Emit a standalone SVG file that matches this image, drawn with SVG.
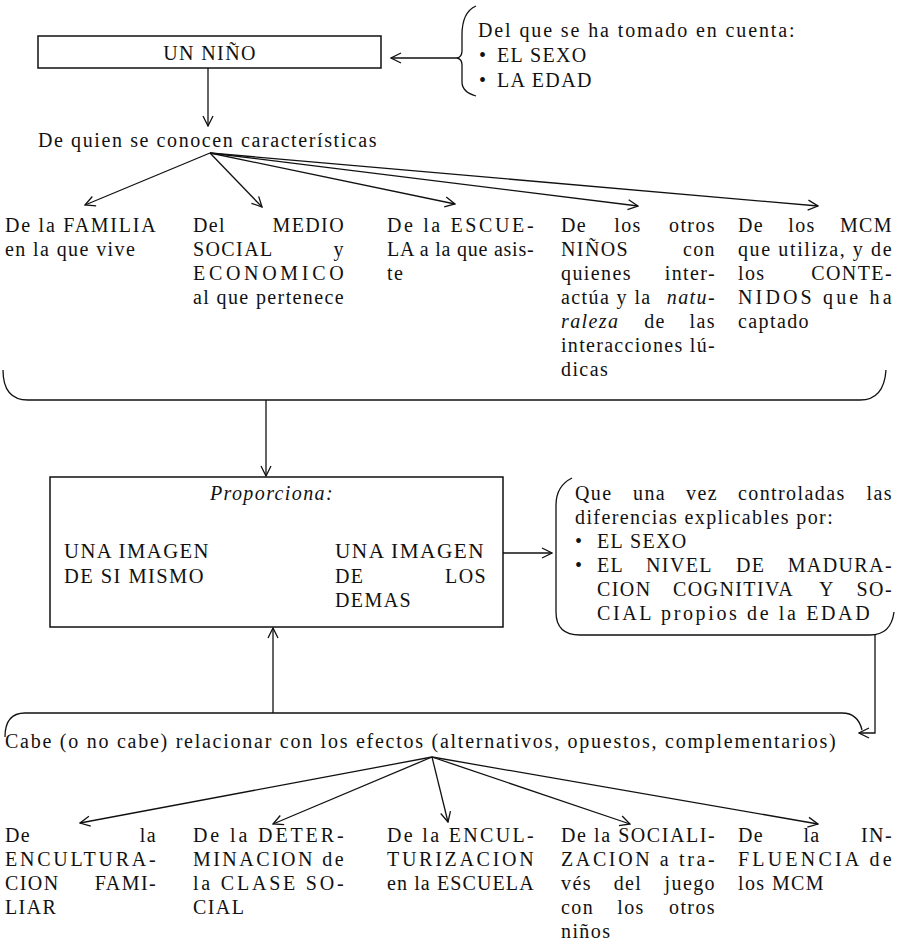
<svg xmlns="http://www.w3.org/2000/svg" width="901" height="946" viewBox="0 0 901 946">
<style>
.t{font-family:"Liberation Serif","Times New Roman",serif;font-size:20px;fill:#111;letter-spacing:1.4px}
.i{font-style:italic}
.e{text-anchor:end}
.m{text-anchor:middle}
.ln{stroke:#111;stroke-width:1.3;fill:none}
.bx{stroke:#111;stroke-width:1.5;fill:#fff}
</style>
<defs>
<marker id="a" viewBox="0 0 12 12" refX="11" refY="6" markerWidth="12" markerHeight="12" markerUnits="userSpaceOnUse" orient="auto">
<path d="M1,1 L11,6 L1,11" fill="none" stroke="#111" stroke-width="1.3"/>
</marker>
</defs>
<rect width="901" height="946" fill="#fff"/>

<g id="connectors">
<line class="ln" x1="457" y1="58" x2="391" y2="58" marker-end="url(#a)"/>
<line class="ln" x1="208" y1="68" x2="208" y2="126" marker-end="url(#a)"/>
<line class="ln" x1="210" y1="153" x2="85" y2="205" marker-end="url(#a)"/>
<line class="ln" x1="210" y1="153" x2="262" y2="207" marker-end="url(#a)"/>
<line class="ln" x1="210" y1="153" x2="455" y2="204" marker-end="url(#a)"/>
<line class="ln" x1="210" y1="153" x2="638" y2="206" marker-end="url(#a)"/>
<line class="ln" x1="210" y1="153" x2="818" y2="206" marker-end="url(#a)"/>
<path class="ln" d="M3,370 Q3,400 28,400 L860,400 Q884,400 886,370"/>
<line class="ln" x1="266" y1="400" x2="266" y2="476" marker-end="url(#a)"/>
<line class="ln" x1="272" y1="509" x2="219" y2="572" marker-end="url(#a)"/>
<line class="ln" x1="272" y1="509" x2="326" y2="572" marker-end="url(#a)"/>
<line class="ln" x1="503" y1="553" x2="552" y2="553" marker-end="url(#a)"/>
<path class="ln" d="M875,635 L875,733 L859,733" marker-end="url(#a)"/>
<path class="ln" d="M5,737 Q5,713 25,713 L842,713 Q858,713 862,730"/>
<line class="ln" x1="273" y1="713" x2="273" y2="628" marker-end="url(#a)"/>
<line class="ln" x1="432" y1="757" x2="80" y2="823" marker-end="url(#a)"/>
<line class="ln" x1="432" y1="757" x2="273" y2="824" marker-end="url(#a)"/>
<line class="ln" x1="432" y1="757" x2="448" y2="822" marker-end="url(#a)"/>
<line class="ln" x1="432" y1="757" x2="630" y2="824" marker-end="url(#a)"/>
<line class="ln" x1="432" y1="757" x2="818" y2="824" marker-end="url(#a)"/>
</g>

<g id="n-nino">
<rect class="bx" x="38" y="36" width="343" height="32"/>
<text class="t m" x="210" y="60">UN NIÑO</text>
</g>

<g id="n-tomado">
<path class="ln" d="M476,6 Q462,12 462,35 L462,51 Q462,57 457,58 Q462,59 462,65 L462,82 Q462,92 476,96"/>
<text class="t" x="478" y="37" textLength="318">Del que se ha tomado en cuenta:</text>
<text class="t" x="479" y="62">•</text><text class="t" x="497" y="62">EL SEXO</text>
<text class="t" x="479" y="87">•</text><text class="t" x="497" y="87">LA EDAD</text>
</g>

<g id="n-conocen">
<text class="t" x="38" y="147" textLength="340">De quien se conocen características</text>
</g>

<g id="n-familia">
<text class="t" x="5" y="232" textLength="152">De la FAMILIA</text>
<text class="t" x="5" y="256">en la que vive</text>
</g>

<g id="n-medio">
<text class="t" x="193" y="232">Del</text><text class="t e" x="345" y="232">MEDIO</text>
<text class="t" x="193" y="256">SOCIAL</text><text class="t e" x="345" y="256">y</text>
<text class="t" x="193" y="280" textLength="152">ECONOMICO</text>
<text class="t" x="193" y="304" textLength="152">al que pertenece</text>
</g>

<g id="n-escuela">
<text class="t" x="387" y="232" textLength="148">De la ESCUE-</text>
<text class="t" x="387" y="256" textLength="148">LA a la que asis-</text>
<text class="t" x="387" y="280">te</text>
</g>

<g id="n-ninos">
<text class="t" x="561" y="232">De</text><text class="t m" x="628" y="232">los</text><text class="t e" x="716" y="232">otros</text>
<text class="t" x="561" y="256">NIÑOS</text><text class="t e" x="716" y="256">con</text>
<text class="t" x="561" y="280">quienes</text><text class="t e" x="716" y="280">inter-</text>
<text class="t" x="561" y="304">actúa y la</text><text class="t i e" x="716" y="304">natu-</text>
<text class="t i" x="561" y="328">raleza</text><text class="t m" x="655" y="328">de</text><text class="t e" x="716" y="328">las</text>
<text class="t" x="561" y="352" textLength="155">interacciones lú-</text>
<text class="t" x="561" y="376">dicas</text>
</g>

<g id="n-mcm">
<text class="t" x="738" y="232">De</text><text class="t m" x="802" y="232">los</text><text class="t e" x="893" y="232">MCM</text>
<text class="t" x="738" y="256" textLength="155">que utiliza, y de</text>
<text class="t" x="738" y="280">los</text><text class="t e" x="893" y="280">CONTE-</text>
<text class="t" x="738" y="304" textLength="155">NIDOS que ha</text>
<text class="t" x="738" y="328">captado</text>
</g>

<g id="n-proporciona">
<rect class="bx" x="50" y="477" width="453" height="150"/>
<text class="t i m" x="272" y="500">Proporciona:</text>
<text class="t" x="64" y="558" textLength="146" lengthAdjust="spacingAndGlyphs">UNA IMAGEN</text>
<text class="t" x="64" y="583" textLength="141" lengthAdjust="spacingAndGlyphs">DE SI MISMO</text>
<text class="t" x="335" y="558" textLength="150" lengthAdjust="spacingAndGlyphs">UNA IMAGEN</text>
<text class="t" x="335" y="583">DE</text><text class="t e" x="487" y="583">LOS</text>
<text class="t" x="335" y="607">DEMAS</text>
</g>

<g id="n-controladas">
<path class="ln" d="M572,478 Q556,486 556,505 L556,612 Q556,635 580,635 L870,635 Q891,635 894,612"/>
<text class="t" x="575" y="500">Que</text><text class="t" x="633" y="500">una</text><text class="t" x="686" y="500">vez</text><text class="t" x="738" y="500">controladas</text><text class="t e" x="893" y="500">las</text>
<text class="t" x="575" y="524">diferencias explicables por:</text>
<text class="t" x="575" y="548">•</text><text class="t" x="597" y="548">EL SEXO</text>
<text class="t" x="575" y="572">•</text><text class="t" x="597" y="572">EL</text><text class="t" x="646" y="572">NIVEL</text><text class="t" x="736" y="572">DE</text><text class="t e" x="893" y="572">MADURA-</text>
<text class="t" x="597" y="596">CION</text><text class="t" x="673" y="596">COGNITIVA</text><text class="t" x="819" y="596">Y</text><text class="t e" x="893" y="596">SO-</text>
<text class="t" x="597" y="620" textLength="274">CIAL propios de la EDAD</text>
</g>

<g id="n-cabe">
<text class="t" x="5" y="748" textLength="832">Cabe (o no cabe) relacionar con los efectos (alternativos, opuestos, complementarios)</text>
</g>

<g id="n-enc-familiar">
<text class="t" x="5" y="842">De</text><text class="t e" x="157" y="842">la</text>
<text class="t" x="5" y="866" textLength="152">ENCULTURA-</text>
<text class="t" x="5" y="890">CION</text><text class="t e" x="157" y="890">FAMI-</text>
<text class="t" x="5" y="914">LIAR</text>
</g>

<g id="n-clase">
<text class="t" x="193" y="842" textLength="152">De la DETER-</text>
<text class="t" x="193" y="866" textLength="152">MINACION de</text>
<text class="t" x="193" y="890" textLength="152">la CLASE SO-</text>
<text class="t" x="193" y="914">CIAL</text>
</g>

<g id="n-escuela2">
<text class="t" x="387" y="842" textLength="148">De la ENCUL-</text>
<text class="t" x="387" y="866" textLength="148">TURIZACION</text>
<text class="t" x="387" y="890" textLength="148">en la ESCUELA</text>
</g>

<g id="n-juego">
<text class="t" x="561" y="842" textLength="155">De la SOCIALI-</text>
<text class="t" x="561" y="866" textLength="155">ZACION a tra-</text>
<text class="t" x="561" y="890">vés</text><text class="t m" x="628" y="890">del</text><text class="t e" x="716" y="890">juego</text>
<text class="t" x="561" y="914">con</text><text class="t m" x="631" y="914">los</text><text class="t e" x="716" y="914">otros</text>
<text class="t" x="561" y="938">niños</text>
</g>

<g id="n-mcm2">
<text class="t" x="738" y="842">De</text><text class="t m" x="812" y="842">la</text><text class="t e" x="893" y="842">IN-</text>
<text class="t" x="738" y="866" textLength="155">FLUENCIA de</text>
<text class="t" x="738" y="890">los MCM</text>
</g>
</svg>
